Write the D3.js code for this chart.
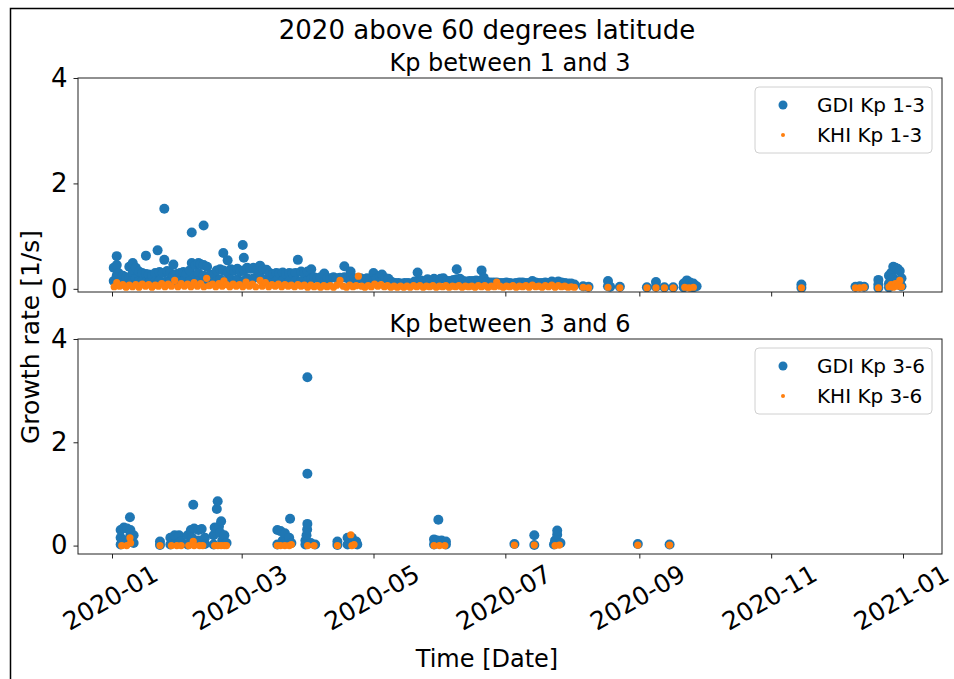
<!DOCTYPE html>
<html>
<head>
<meta charset="utf-8">
<script src="https://cdn.jsdelivr.net/npm/d3@7"></script>
<style>
  body { margin: 0; background: #fff; }
  svg { display: block; }
  text { font-family: "DejaVu Sans", sans-serif; fill: #000; }
</style>
</head>
<body>
<svg id="chart" width="954" height="679"></svg>
<script>
// ---- data -------------------------------------------------------------
const figureTitle = "2020 above 60 degrees latitude";
const panelTitles = ["Kp between 1 and 3", "Kp between 3 and 6"];
const legendLabels = [["GDI Kp 1-3", "KHI Kp 1-3"], ["GDI Kp 3-6", "KHI Kp 3-6"]];
const xTickLabels = ["2020-01", "2020-03", "2020-05", "2020-07", "2020-09", "2020-11", "2021-01"];
const yTickValues = [0, 2, 4];
const yLabel = "Growth rate [1/s]";
const xLabel = "Time [Date]";

// [day of year 2020 (0 = Jan 1), growth rate 1/s]
const gdiKp13 = [
  [0.8,0.4],[0.8,0.15],[2.2,0.62],[2.2,0.45],[2.2,0.25],[2.2,0.1],[3,0.3],[3,0.12],[5,0.25],[5,0.1],
  [6.5,0.22],[8,0.42],[8,0.2],[9.6,0.49],[9.6,0.3],[9.6,0.15],[11,0.4],[11,0.2],[12.5,0.33],[12.5,0.15],
  [14,0.3],[14,0.15],[15.7,0.63],[15.7,0.28],[15.7,0.12],[17,0.27],[17,0.12],[18.5,0.25],[20,0.3],[20,0.15],
  [21.1,0.73],[22,0.32],[22,0.15],[23.5,0.3],[24.2,1.52],[24.2,0.55],[25.5,0.34],[25.5,0.15],[27,0.3],[27,0.15],
  [28.4,0.46],[28.4,0.25],[30,0.28],[30,0.12],[31.5,0.3],[31.5,0.15],[33,0.32],[33,0.15],[34.5,0.28],[36,0.35],
  [36,0.15],[36.9,1.07],[36.9,0.49],[38.5,0.45],[38.5,0.25],[38.5,0.12],[40,0.49],[40,0.3],[40,0.15],[40.8,0.47],
  [42.4,1.2],[42.4,0.45],[42.4,0.25],[42.4,0.12],[44,0.42],[44,0.22],[45.5,0.27],[45.5,0.12],[47,0.26],[48.5,0.35],
  [48.5,0.15],[50,0.37],[50,0.18],[51.5,0.68],[51.5,0.35],[53.5,0.54],[53.5,0.3],[53.5,0.15],[55,0.37],[55,0.18],
  [56.5,0.35],[58,0.38],[58,0.18],[59.5,0.33],[60.5,0.83],[61,0.59],[61,0.35],[61,0.15],[62.5,0.4],[62.5,0.2],
  [64,0.38],[65.5,0.4],[65.5,0.2],[67,0.36],[68.5,0.44],[68.5,0.22],[70,0.37],[70,0.18],[71.5,0.36],[73,0.3],
  [73,0.15],[74.5,0.28],[76,0.3],[76,0.15],[77.5,0.29],[79,0.31],[79,0.15],[80.5,0.28],[82,0.3],[82,0.15],
  [83.5,0.29],[85,0.3],[85,0.15],[86,0.55],[87.5,0.33],[87.5,0.15],[89,0.3],[90.5,0.33],[90.5,0.15],[92.2,0.37],
  [92.2,0.18],[93.5,0.22],[95,0.2],[96.5,0.22],[98.2,0.29],[98.2,0.12],[99.5,0.2],[101,0.2],[102.5,0.22],[104,0.2],
  [105.5,0.21],[107.5,0.43],[107.5,0.22],[109,0.2],[110.4,0.33],[110.4,0.15],[112,0.2],[113.5,0.19],[115,0.2],[116.5,0.18],
  [118,0.2],[119.5,0.19],[121,0.3],[121,0.15],[122.5,0.2],[124,0.24],[124.9,0.27],[126.5,0.2],[127.9,0.19],[129.5,0.13],
  [131,0.11],[132.5,0.11],[134,0.1],[135.5,0.11],[137,0.11],[138.5,0.1],[140,0.14],[141.4,0.31],[141.4,0.15],[143,0.16],
  [144.5,0.12],[146,0.18],[147.5,0.14],[149,0.19],[150.5,0.16],[152,0.19],[153.3,0.2],[155,0.15],[156.5,0.15],[158,0.17],
  [159.5,0.37],[159.5,0.18],[161,0.19],[162.5,0.15],[164,0.14],[165.5,0.15],[167,0.15],[168.5,0.16],[170,0.15],[171,0.35],
  [172,0.21],[173.5,0.13],[175,0.12],[176.5,0.12],[178,0.12],[179.5,0.11],[181,0.11],[182.5,0.12],[184,0.11],[185.5,0.1],
  [187,0.11],[188.5,0.12],[190,0.12],[191.5,0.11],[193,0.11],[194.5,0.15],[196,0.12],[197.5,0.11],[199,0.11],[200.5,0.12],
  [202,0.11],[203.5,0.14],[205,0.12],[206.5,0.14],[208,0.12],[209.5,0.11],[211,0.1],[212.5,0.1],[214,0.08],
  [218,0.05],[220.5,0.04],[229.5,0.15],[229.5,0.05],[230.5,0.04],[235,0.04],[247.5,0.03],[251.7,0.13],[251.7,0.04],[255.6,0.03],
  [259.7,0.03],[264.5,0.1],[264.5,0.03],[266,0.16],[267.5,0.12],[267.5,0.04],[269,0.1],[269,0.03],[270.5,0.05],[319,0.08],
  [319,0.02],[344,0.04],[346,0.05],[348,0.04],[354.6,0.17],[354.6,0.08],[354.6,0.02],[359.5,0.25],[359.5,0.1],[359.5,0.03],
  [360.5,0.3],[361.5,0.42],[361.5,0.2],[362.5,0.4],[363.5,0.38],[363.5,0.15],[364.5,0.34],[364.5,0.12],[365.3,0.2],[365.3,0.05]
];

const khiKp13 = [
  [1,0.04],[2.2,0.12],[3.5,0.05],[5,0.08],[6.5,0.03],[8,0.07],[9.5,0.04],[11,0.08],[12.5,0.03],[14,0.09],
  [15.5,0.05],[17,0.08],[18.5,0.03],[20,0.07],[21.5,0.05],[23,0.1],[24.5,0.04],[26,0.09],[27.5,0.05],[29,0.16],
  [30.5,0.04],[32,0.1],[33.5,0.05],[35,0.09],[36.5,0.04],[38,0.12],[39.5,0.05],[41,0.1],[42.5,0.04],[43.8,0.2],
  [45,0.06],[46.5,0.09],[48,0.04],[49.5,0.1],[51,0.05],[51.8,0.15],[53,0.08],[54.5,0.04],[56,0.09],[57.5,0.05],
  [59,0.08],[60.5,0.04],[62,0.13],[63.5,0.05],[65,0.09],[66.5,0.04],[68.5,0.16],[69.5,0.05],[71,0.12],[72.5,0.04],
  [74,0.08],[75.5,0.05],[77,0.09],[78.5,0.04],[80,0.08],[81.5,0.05],[83,0.07],[84.5,0.04],[86,0.08],[87.5,0.05],
  [89,0.07],[90.5,0.03],[92,0.07],[93.5,0.04],[95,0.06],[96.5,0.03],[98,0.06],[99.5,0.04],[101,0.06],[102.5,0.03],
  [104,0.07],[105.5,0.16],[107,0.05],[108.5,0.03],[110,0.07],[111.5,0.04],[113,0.06],[114,0.24],[115.5,0.05],[117,0.03],
  [118.5,0.06],[120,0.04],[121.5,0.09],[123,0.05],[124.5,0.08],[126,0.04],[127.5,0.06],[129,0.03],[130.5,0.05],[132,0.03],
  [133.5,0.05],[135,0.03],[136.5,0.05],[138,0.03],[139.5,0.06],[141,0.04],[142.5,0.06],[144,0.03],[145.5,0.05],[147,0.04],
  [148.5,0.06],[150,0.03],[151.5,0.05],[153,0.04],[154.5,0.06],[156,0.03],[157.5,0.05],[159,0.04],[160.5,0.06],[162,0.03],
  [163.5,0.05],[165,0.04],[166.5,0.05],[168,0.03],[169.5,0.06],[171,0.04],[172.5,0.06],[174,0.03],[175.5,0.05],[177,0.04],
  [178,0.13],[179.5,0.05],[181,0.03],[182.5,0.05],[184,0.04],[185.5,0.06],[187,0.03],[188.5,0.05],[190,0.04],[191.5,0.06],
  [193,0.03],[194.5,0.07],[196,0.04],[197.5,0.05],[199,0.03],[200.5,0.06],[202,0.04],[203.5,0.07],[205,0.03],[206.5,0.06],
  [208,0.04],[209.5,0.05],[211,0.03],[212.5,0.04],[214,0.03],
  [218,0.03],[220.5,0.02],[229.5,0.03],[235,0.02],[247.5,0.02],[251.7,0.02],[255.6,0.02],[259.7,0.02],[265,0.03],[267,0.02],
  [269,0.03],[319,0.02],[344,0.02],[346,0.02],[348,0.03],[354.6,0.02],[359.5,0.04],[360.5,0.08],[361.5,0.03],[362.5,0.1],
  [363.5,0.05],[364.5,0.16],[365.3,0.04]
];

const gdiKp36 = [
  [4,0.02],[4,0.15],[4,0.3],[5.5,0.1],[5.5,0.35],[7,0.05],[7,0.33],[8.3,0.55],[8.5,0.2],[8.5,0.3],[10,0.05],[10,0.2],
  [22.2,0.01],[22.2,0.08],
  [27,0.02],[27,0.15],[29,0.05],[29,0.2],[31,0.2],[31,0.05],[32,0.08],
  [35,0.02],[35,0.2],[36.5,0.3],[37,0.15],[37.6,0.79],[38,0.33],[40,0.1],[40,0.3],[41.5,0.32],[43,0.15],[43,0.03],
  [47,0.02],[47,0.2],[47.5,0.35],[48.5,0.71],[48.9,0.86],[49.5,0.37],[50,0.25],[50.5,0.47],[51,0.1],[52,0.2],[53,0.05],
  [76.5,0.02],[76.5,0.3],[78,0.28],[79,0.1],[80,0.24],[82,0.15],[82.4,0.52],[83,0.05],
  [89.5,0.02],[89.5,0.1],[90,0.2],[90.3,0.31],[90.4,0.42],[90.4,1.39],[90.4,3.26],[92,0.05],[94,0.02],
  [104.3,0.01],[104.3,0.08],
  [109,0.02],[109,0.15],[111,0.15],[113,0.08],[113.5,0.02],
  [149,0.02],[149,0.12],[150.5,0.1],[151,0.5],[152.5,0.1],[154.5,0.02],[154.5,0.08],
  [186.2,0.03],
  [195.4,0.01],[195.4,0.2],
  [204.5,0.02],[205,0.1],[206,0.21],[206,0.29],[207.5,0.05],
  [243.3,0.03],
  [258,0.02]
];

const khiKp36 = [
  [4.5,0],[6.8,0],[8.3,0.15],[8.6,0.05],[22.2,0],[27.5,0],[30,0],[32,0],[35.5,0],[37.6,0.08],
  [38,0],[40.5,0],[42,0],[47.5,0],[49,0],[50.5,0],[52,0],[53,0],[76.5,0],[78,0],
  [80,0],[82,0],[83,0.02],[90.5,0],[93.5,0],[104.3,0],[110.5,0.21],[111,0],[112,0.02],[149,0],
  [151.5,0],[154,0],[186.2,0.01],[195.4,0.01],[205,0],[207,0.01],[243.3,0.01],[258,0.01]
];

// ---- layout -------------------------------------------------------------
const blue = "#1f77b4", orange = "#ff7f0e";
const svg = d3.select("#chart");
const plotLeft = 78, plotRight = 942;
const yTickFont = 26, xTickFont = 25;
const panels = [
  { top: 78,  bottom: 292, yMin: -0.06,  gdi: gdiKp13, khi: khiKp13, title: panelTitles[0], legend: legendLabels[0], legendTop: 87,  showXLabels: false },
  { top: 339, bottom: 554, yMin: -0.163, gdi: gdiKp36, khi: khiKp36, title: panelTitles[1], legend: legendLabels[1], legendTop: 348, showXLabels: true }
];

const yearStart = Date.UTC(2020, 0, 1);
const toDate = d => new Date(yearStart + d * 864e5);
const x = d3.scaleUtc()
  .domain([new Date(Date.UTC(2020, 0, 1)), new Date(Date.UTC(2021, 0, 1))])
  .range([112, 903]);
const tickDates = xTickLabels.map(s => d3.utcParse("%Y-%m")(s));
const fmt = d3.utcFormat("%Y-%m");

// outer figure frame
svg.append("rect").attr("x", 10.5).attr("y", 8.5).attr("width", 1200).attr("height", 1200)
  .attr("fill", "none").attr("stroke", "#000").attr("stroke-width", 1.5);

svg.append("text").attr("x", 487).attr("y", 39).attr("text-anchor", "middle")
  .style("font-size", "26px").text(figureTitle);

panels.forEach((p, i) => {
  const y = d3.scaleLinear().domain([p.yMin, 4]).range([p.bottom, p.top]);
  const g = svg.append("g");
  const clipId = "clip" + i;
  g.append("clipPath").attr("id", clipId).append("rect")
    .attr("x", plotLeft).attr("y", p.top).attr("width", plotRight - plotLeft).attr("height", p.bottom - p.top);

  const marks = g.append("g").attr("clip-path", `url(#${clipId})`);
  marks.selectAll("circle.gdi").data(p.gdi).join("circle").attr("class", "gdi")
    .attr("cx", d => x(toDate(d[0]))).attr("cy", d => y(d[1])).attr("r", 5).attr("fill", blue);
  marks.selectAll("circle.khi").data(p.khi).join("circle").attr("class", "khi")
    .attr("cx", d => x(toDate(d[0]))).attr("cy", d => y(d[1])).attr("r", 3.6).attr("fill", orange);

  // y axis
  const yAxis = g.append("g").attr("transform", `translate(${plotLeft},0)`)
    .call(d3.axisLeft(y).tickValues(yTickValues).tickSize(4.5).tickPadding(6).tickFormat(d3.format("d")));
  yAxis.select(".domain").remove();
  yAxis.selectAll("line").attr("stroke", "#222");
  yAxis.selectAll("text").style("font-size", yTickFont + "px").style("font-family", "DejaVu Sans").attr("fill", "#000");

  // x axis
  const xAxis = g.append("g").attr("transform", `translate(0,${p.bottom})`)
    .call(d3.axisBottom(x).tickValues(tickDates).tickSize(4.5).tickFormat(p.showXLabels ? fmt : ""));
  xAxis.select(".domain").remove();
  xAxis.selectAll("line").attr("stroke", "#222");
  if (p.showXLabels) {
    xAxis.selectAll("text").each(function () {
      const t = d3.select(this);
      t.style("font-size", xTickFont + "px").style("font-family", "DejaVu Sans").attr("fill", "#000");
      const L = this.getComputedTextLength();
      const h = xTickFont * 0.8;
      const a = Math.PI / 6;
      const bh = L * Math.sin(a) + h * Math.cos(a);
      t.attr("x", 0).attr("y", 0).attr("dy", null)
        .attr("text-anchor", "middle").attr("dominant-baseline", "central")
        .attr("transform", `translate(-2,${9 + bh / 2}) rotate(-30)`);
    });
  } else {
    xAxis.selectAll("text").remove();
  }

  // axes frame
  g.append("rect").attr("x", plotLeft).attr("y", p.top)
    .attr("width", plotRight - plotLeft).attr("height", p.bottom - p.top)
    .attr("fill", "none").attr("stroke", "#222").attr("stroke-width", 1);

  // panel title
  g.append("text").attr("x", (plotLeft + plotRight) / 2).attr("y", p.top - 7)
    .attr("text-anchor", "middle").style("font-size", "24px").text(p.title);

  // legend
  const lg = g.append("g").attr("transform", `translate(755,${p.legendTop})`);
  lg.append("rect").attr("width", 177).attr("height", 66).attr("rx", 4)
    .attr("fill", "#fff").attr("fill-opacity", 0.8).attr("stroke", "#d0d0d0");
  const entries = [{ label: p.legend[0], color: blue, r: 4.5 }, { label: p.legend[1], color: orange, r: 2 }];
  entries.forEach((e, k) => {
    const cy = 18 + k * 30;
    lg.append("circle").attr("cx", 28).attr("cy", cy).attr("r", e.r).attr("fill", e.color);
    lg.append("text").attr("x", 62).attr("y", cy).attr("dominant-baseline", "central")
      .style("font-size", "20px").text(e.label);
  });
});

svg.append("text").attr("transform", "translate(30,337) rotate(-90)")
  .attr("text-anchor", "middle").attr("dominant-baseline", "central")
  .style("font-size", "25px").text(yLabel);

svg.append("text").attr("x", 487).attr("y", 667).attr("text-anchor", "middle")
  .style("font-size", "24px").text(xLabel);
</script>
</body>
</html>
